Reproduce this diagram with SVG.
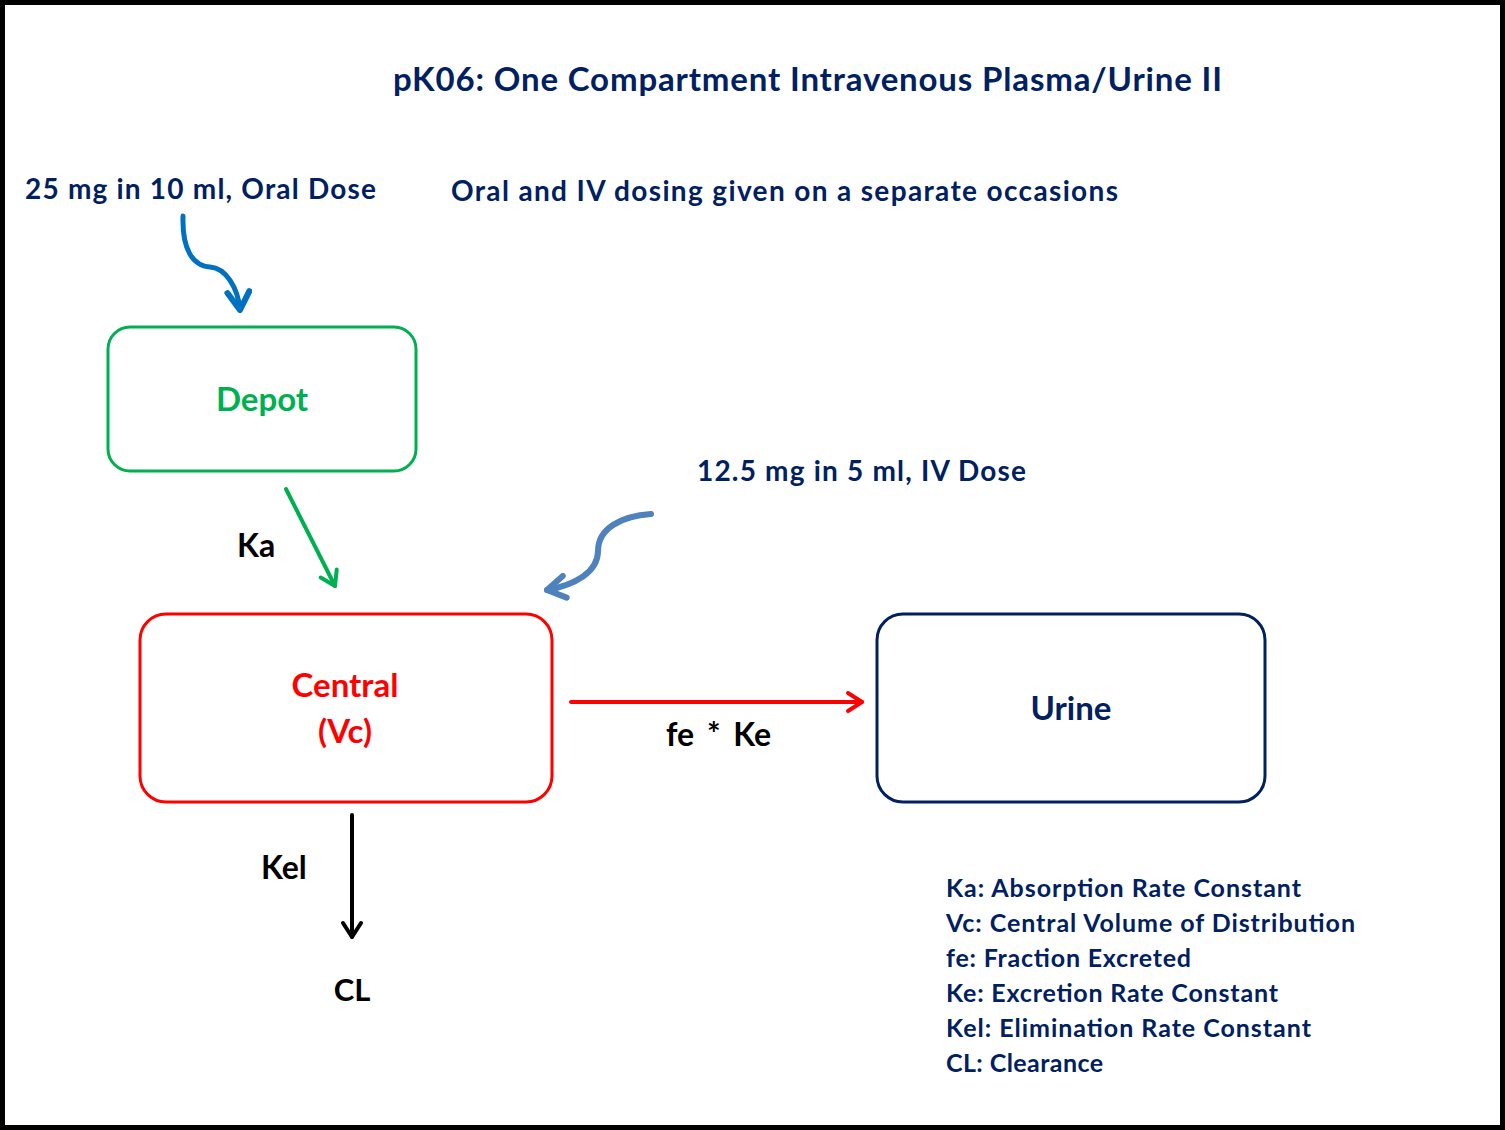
<svg xmlns="http://www.w3.org/2000/svg" width="1505" height="1130" viewBox="0 0 1505 1130">
<style>
text{font-family:Lato,"Open Sans","Liberation Sans",sans-serif;font-weight:bold}
.navy{fill:#002060}
.blk{fill:#000}
.box{fill:#fff;stroke-width:3}
.conn{fill:none;stroke-linecap:round;stroke-linejoin:round}
</style>
<defs>
<marker id="mGreen" markerUnits="userSpaceOnUse" viewBox="-20 -12 24 24" refX="0" refY="0" markerWidth="24" markerHeight="24" orient="auto"><polyline points="-14,-9 0,0 -14,9" fill="none" stroke="#00B050" stroke-width="4" stroke-linecap="round" stroke-linejoin="round"/></marker>
<marker id="mRed" markerUnits="userSpaceOnUse" viewBox="-20 -12 24 24" refX="0" refY="0" markerWidth="24" markerHeight="24" orient="auto"><polyline points="-14,-9 0,0 -14,9" fill="none" stroke="#FF0000" stroke-width="4" stroke-linecap="round" stroke-linejoin="round"/></marker>
<marker id="mBlack" markerUnits="userSpaceOnUse" viewBox="-20 -12 24 24" refX="0" refY="0" markerWidth="24" markerHeight="24" orient="auto"><polyline points="-14,-9 0,0 -14,9" fill="none" stroke="#000" stroke-width="4" stroke-linecap="round" stroke-linejoin="round"/></marker>
<marker id="mBlue" markerUnits="userSpaceOnUse" viewBox="-24 -14 28 28" refX="0" refY="0" markerWidth="28" markerHeight="28" orient="auto"><polyline points="-18,-11 0,0 -18,11" fill="none" stroke="#0070C0" stroke-width="6" stroke-linecap="round" stroke-linejoin="round"/></marker>
<marker id="mSteel" markerUnits="userSpaceOnUse" viewBox="-24 -14 28 28" refX="0" refY="0" markerWidth="28" markerHeight="28" orient="auto"><polyline points="-18,-11 0,0 -18,11" fill="none" stroke="#4F81BD" stroke-width="6" stroke-linecap="round" stroke-linejoin="round"/></marker>
</defs>
<rect x="0" y="0" width="1505" height="1130" fill="#fff"/>
<rect x="2.5" y="2.5" width="1500" height="1125" fill="none" stroke="#000" stroke-width="5"/>

<g id="title"><text class="navy" x="393" y="91" font-size="33" textLength="829">pK06: One Compartment Intravenous Plasma/Urine II</text></g>
<g id="oral-label"><text class="navy" x="25" y="199" font-size="28" textLength="351">25 mg in 10 ml, Oral Dose</text></g>
<g id="note"><text class="navy" x="451" y="201" font-size="28" textLength="667">Oral and IV dosing given on a separate occasions</text></g>
<g id="iv-label"><text class="navy" x="697" y="481" font-size="28" textLength="329">12.5 mg in 5 ml, IV Dose</text></g>

<g id="depot">
<rect class="box" x="108" y="327" width="308" height="144" rx="22" stroke="#00B050"/>
<text x="262" y="411" font-size="33" fill="#00B050" text-anchor="middle">Depot</text>
</g>
<g id="central">
<rect class="box" x="140" y="614" width="412" height="188" rx="26" stroke="#FF0000"/>
<text x="345" y="697" font-size="33" fill="#FF0000" text-anchor="middle">Central</text>
<text x="345" y="743" font-size="33" fill="#FF0000" text-anchor="middle">(Vc)</text>
</g>
<g id="urine">
<rect class="box" x="877" y="614" width="388" height="188" rx="26" stroke="#002060"/>
<text class="navy" x="1071" y="720" font-size="33" text-anchor="middle">Urine</text>
</g>
<g id="cl"><text class="blk" x="352" y="1001" font-size="31" text-anchor="middle">CL</text></g>

<g id="connectors">
<path class="conn" d="M286,489 L335,586" stroke="#00B050" stroke-width="4" marker-end="url(#mGreen)"/>
<path class="conn" d="M571,702 L862,702" stroke="#FF0000" stroke-width="4" marker-end="url(#mRed)"/>
<path class="conn" d="M352,815 L352,937" stroke="#000" stroke-width="4" marker-end="url(#mBlack)"/>
<path class="conn" d="M183,216 C182,250 193,266 210,267 C226,268 238,288 240,310" stroke="#0070C0" stroke-width="5" marker-end="url(#mBlue)"/>
<path class="conn" d="M651,514 C622,516 598,528 598,551 C598,572 575,585 547,590" stroke="#4F81BD" stroke-width="6" marker-end="url(#mSteel)"/>
<text class="blk" x="237" y="557" font-size="32">Ka</text>
<text class="blk" x="666" y="746" font-size="32" word-spacing="5">fe * Ke</text>
<text class="blk" x="261" y="879" font-size="32">Kel</text>
</g>

<g id="legend">
<text class="navy" x="946" y="897" font-size="25" textLength="355">Ka: Absorption Rate Constant</text>
<text class="navy" x="946" y="932" font-size="25" textLength="409">Vc: Central Volume of Distribution</text>
<text class="navy" x="946" y="967" font-size="25" textLength="245">fe: Fraction Excreted</text>
<text class="navy" x="946" y="1002" font-size="25" textLength="332">Ke: Excretion Rate Constant</text>
<text class="navy" x="946" y="1037" font-size="25" textLength="365">Kel: Elimination Rate Constant</text>
<text class="navy" x="946" y="1072" font-size="25" textLength="157">CL: Clearance</text>
</g>
</svg>
